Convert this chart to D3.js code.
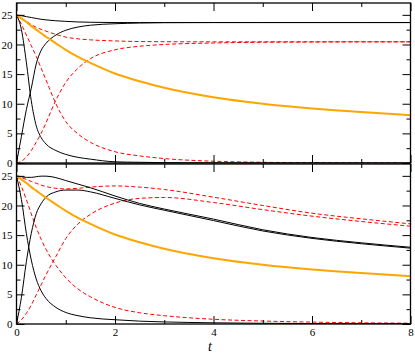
<!DOCTYPE html>
<html>
<head>
<meta charset="utf-8">
<script src="https://cdn.jsdelivr.net/npm/d3@7"></script>
<style>
  html, body { margin: 0; padding: 0; background: #fff; }
  svg { display: block; }
  svg text { font-family: "Liberation Serif", "Times New Roman", "DejaVu Serif", serif !important; }
</style>
</head>
<body>
<svg id="chart" width="415" height="353"></svg>
<script>
// sample times (same grid for all series)
const tGrid = [0, 0.1, 0.2, 0.3, 0.4, 0.5, 0.6, 0.8, 1, 1.25, 1.5, 2, 2.5, 3, 4, 5, 6, 7, 8];

// upper panel
const blackUpperTop = [25, 24.85, 24.7, 24.55, 24.4, 24.25, 24.15, 24.0, 23.9, 23.8, 23.75, 23.7, 23.7, 23.7, 23.7, 23.7, 23.7, 23.7, 23.7];
const blackDecayTop = [25, 22.5, 17.0, 10.5, 6.3, 4.3, 3.2, 2.1, 1.45, 0.95, 0.65, 0.2, 0.12, 0.06, 0.02, 0.01, 0, 0, 0];
const blackRiseTop  = [0, 4.5, 9.0, 12.6, 16.7, 19.0, 20.2, 21.6, 22.4, 22.95, 23.25, 23.5, 23.62, 23.68, 23.7, 23.7, 23.7, 23.7, 23.7];
const redUpperTop   = [25, 24.4, 23.9, 23.35, 22.9, 22.55, 22.25, 21.7, 21.25, 20.95, 20.78, 20.6, 20.5, 20.47, 20.45, 20.45, 20.45, 20.45, 20.45];
const redDecayTop   = [25, 23.4, 21.6, 19.8, 18.0, 16.0, 14.0, 10.0, 7.0, 4.9, 3.5, 1.9, 1.2, 0.75, 0.3, 0.12, 0.05, 0.02, 0.01];
const redRiseTop    = [0, 0.3, 1.0, 2.1, 3.5, 5.0, 6.8, 10.6, 13.6, 16.0, 17.6, 19.1, 19.7, 20.0, 20.25, 20.38, 20.42, 20.45, 20.45];

// lower panel
const blackUpperBot = [25, 24.85, 24.75, 24.75, 24.85, 24.95, 24.95, 24.7, 24.2, 23.6, 23.0, 21.6, 20.35, 19.4, 17.7, 15.9, 14.6, 13.7, 12.95];
const blackRiseBot  = [0, 4.5, 10.5, 15.3, 18.6, 20.3, 21.4, 22.3, 22.6, 22.6, 22.3, 21.2, 20.1, 19.2, 17.45, 15.7, 14.45, 13.55, 12.8];
const blackDecayBot = [25, 21.0, 15.3, 10.8, 7.6, 5.6, 4.3, 2.8, 1.95, 1.4, 1.05, 0.72, 0.48, 0.35, 0.2, 0.12, 0.08, 0.05, 0.03];
const redUpperBot   = [25, 24.7, 24.4, 24.05, 23.75, 23.45, 23.2, 22.9, 22.8, 22.9, 23.1, 23.3, 23.1, 22.7, 21.4, 20.0, 18.7, 17.75, 16.9];
const redRiseBot    = [0, 0.7, 1.8, 3.2, 4.9, 6.6, 8.3, 11.4, 14.4, 16.9, 18.5, 20.4, 21.2, 21.35, 20.5, 19.3, 18.2, 17.3, 16.5];
const redDecayBot   = [25, 23.2, 21.0, 18.6, 16.3, 14.3, 12.6, 9.9, 7.8, 5.9, 4.6, 2.8, 1.9, 1.4, 0.8, 0.5, 0.32, 0.2, 0.14];

// reference curve, drawn in both panels
const orange = [25, 24.4, 23.8, 23.1, 22.5, 21.9, 21.3, 20.2, 19.1, 17.9, 16.9, 15.1, 13.8, 12.7, 11.1, 10.0, 9.2, 8.6, 8.05];

const xMajor = [0, 2, 4, 6, 8];
const xMinor = [1, 3, 5, 7];
const yMajor = [0, 5, 10, 15, 20, 25];
const yMinor = [2.5, 7.5, 12.5, 17.5, 22.5];

const svg = d3.select("#chart");
const x = d3.scaleLinear().domain([0, 8]).range([16.5, 410.5]);
const yTop = d3.scaleLinear().domain([0, 27]).range([163, 3]);
const yBot = d3.scaleLinear().domain([0, 27]).range([324, 164]);

const BIG = 8, SMALL = 4;

function panel(id, y, series, showX){
  const g = svg.append("g");
  const [x0, x1] = x.range();
  const [yb, yt] = y.range();

  g.append("clipPath").attr("id", id)
    .append("rect").attr("x", x0).attr("y", yt).attr("width", x1 - x0).attr("height", yb - yt);

  const lines = g.append("g").attr("clip-path", "url(#" + id + ")");
  series.forEach(s => {
    const line = d3.line()
      .x((d, i) => x(tGrid[i]))
      .y(d => y(d))
      .curve(d3.curveMonotoneX);
    lines.append("path")
      .attr("d", line(s.v))
      .attr("fill", "none")
      .attr("stroke", s.c)
      .attr("stroke-width", s.w)
      .attr("stroke-dasharray", s.dash || null);
  });

  // ticks on all four sides, pointing inwards
  const axes = [
    [d3.axisLeft(y),   "translate(" + x0 + ",0)", yMajor, yMinor, true],
    [d3.axisRight(y),  "translate(" + x1 + ",0)", yMajor, yMinor, false],
    [d3.axisBottom(x), "translate(0," + yb + ")", xMajor, xMinor, showX],
    [d3.axisTop(x),    "translate(0," + yt + ")", xMajor, xMinor, false]
  ];
  axes.forEach(([ax, tr, maj, min, lab]) => {
    const a1 = g.append("g").attr("transform", tr)
      .call(ax.tickValues(maj).tickSizeInner(-BIG).tickSizeOuter(0).tickPadding(4)
        .tickFormat(lab ? d3.format("d") : ""));
    a1.attr("font-family", null).attr("font-size", 11);
    a1.selectAll("text").attr("fill", "#000");
    a1.selectAll("line").attr("stroke", "#000");
    a1.select(".domain").remove();
    const a2 = g.append("g").attr("transform", tr)
      .call(ax.tickValues(min).tickSizeInner(-SMALL).tickSizeOuter(0).tickFormat(""));
    a2.selectAll("line").attr("stroke", "#000");
    a2.select(".domain").remove();
  });

  g.append("rect")
    .attr("x", x0).attr("y", yt).attr("width", x1 - x0).attr("height", yb - yt)
    .attr("fill", "none").attr("stroke", "#000").attr("stroke-width", 1.3);
}

const dash = "4,2.5";
panel("clipTop", yTop, [
  {v: redUpperTop, c: "#ff0000", w: 1, dash: dash},
  {v: redDecayTop, c: "#ff0000", w: 1, dash: dash},
  {v: redRiseTop,  c: "#ff0000", w: 1, dash: dash},
  {v: blackUpperTop, c: "#000", w: 1},
  {v: blackDecayTop, c: "#000", w: 1},
  {v: blackRiseTop,  c: "#000", w: 1},
  {v: orange, c: "#ffa500", w: 2}
], false);

panel("clipBot", yBot, [
  {v: redUpperBot, c: "#ff0000", w: 1, dash: dash},
  {v: redDecayBot, c: "#ff0000", w: 1, dash: dash},
  {v: redRiseBot,  c: "#ff0000", w: 1, dash: dash},
  {v: blackUpperBot, c: "#000", w: 1},
  {v: blackDecayBot, c: "#000", w: 1},
  {v: blackRiseBot,  c: "#000", w: 1},
  {v: orange, c: "#ffa500", w: 2}
], true);

svg.append("text")
  .attr("x", 210).attr("y", 351)
  .attr("text-anchor", "middle")
  .attr("font-style", "italic")
  .attr("font-size", 14)
  .text("t");
</script>
</body>
</html>
